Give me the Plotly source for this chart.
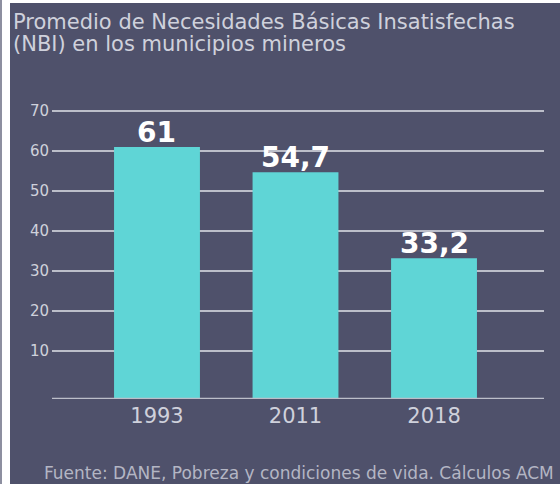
import plotly.graph_objects as go

# ---- data ----
years = ["1993", "2011", "2018"]
nbi_values = [61, 54.7, 33.2]
y_tick_values = [10, 20, 30, 40, 50, 60, 70]
y_tick_labels = ["10", "20", "30", "40", "50", "60", "70"]

title_lines = ["Promedio de Necesidades Básicas Insatisfechas",
               "(NBI) en los municipios mineros"]
source_text = "Fuente: DANE, Pobreza y condiciones de vida. Cálculos ACM"

# ---- style ----
BG = "#4f516b"
BAR = "#5fd5d6"
GRID = "#bcbec9"
TEXT_LIGHT = "#cfd1dc"
FONT = "DejaVu Sans"

W, H = 560, 484
Y_MIN, Y_MAX = -2, 70.5
L, R, B = 52, 16, 85
T = 111 - 2  # 70 gridline at ~111px
labels = [f"{v:g}".replace(".", ",") for v in nbi_values]
heights = [v - Y_MIN for v in nbi_values]

pw = W - L - R
ph = H - T - B


def px_x(p):
    return (p - L) / pw


def px_y(p):
    return (H - B - p) / ph


fig = go.Figure(
    go.Bar(
        x=years,
        y=heights,
        base=Y_MIN,
        width=0.62,
        marker=dict(color=BAR, line=dict(width=0)),
        hoverinfo="skip",
    )
)

annotations = []
for i, (v, lab) in enumerate(zip(nbi_values, labels)):
    annotations.append(dict(
        x=i, y=v, xref="x", yref="y", text=lab, showarrow=False,
        xanchor="center", yanchor="bottom", yshift=-4,
        font=dict(family=FONT, size=28, color="white", weight="bold")))

annotations += [
    dict(text=title_lines[0], xref="paper", yref="paper",
         x=px_x(11), y=px_y(8), xanchor="left", yanchor="top",
         showarrow=False, font=dict(family=FONT, size=21, color=TEXT_LIGHT)),
    dict(text=title_lines[1], xref="paper", yref="paper",
         x=px_x(11), y=px_y(30), xanchor="left", yanchor="top",
         showarrow=False, font=dict(family=FONT, size=21, color=TEXT_LIGHT)),
    dict(text=source_text, xref="paper", yref="paper",
         x=px_x(42), y=px_y(473), xanchor="left", yanchor="middle",
         showarrow=False, font=dict(family=FONT, size=17, color="#b4b6c4")),
]

fig.update_layout(
    width=W,
    height=H,
    margin=dict(l=L, r=R, t=T, b=B),
    paper_bgcolor="white",
    plot_bgcolor=BG,
    showlegend=False,
    xaxis=dict(
        type="category",
        range=[-0.758, 2.794],
        showgrid=False,
        showline=False,
        zeroline=False,
        ticks="",
        tickfont=dict(family=FONT, size=21, color=TEXT_LIGHT),
        ticklabelstandoff=2,
    ),
    yaxis=dict(
        range=[Y_MIN, Y_MAX],
        tickvals=y_tick_values,
        ticktext=y_tick_labels,
        showgrid=True,
        gridcolor=GRID,
        gridwidth=1.5,
        zeroline=False,
        showline=False,
        ticks="",
        tickfont=dict(family=FONT, size=15, color=TEXT_LIGHT),
        ticklabelstandoff=2,
    ),
    shapes=[
        dict(type="rect", xref="paper", yref="paper", layer="below",
             x0=px_x(10), x1=px_x(W + 5), y0=px_y(H + 5), y1=px_y(3),
             fillcolor=BG, line=dict(width=0)),
        dict(type="line", xref="paper", yref="paper", layer="below",
             x0=px_x(1), x1=px_x(1), y0=px_y(H + 5), y1=px_y(-5),
             line=dict(color="#8d8fa0", width=2)),
        dict(type="line", xref="paper", yref="y", layer="above",
             x0=0, x1=1, y0=Y_MIN, y1=Y_MIN,
             line=dict(color=GRID, width=2.5)),
    ],
    annotations=annotations,
)

fig.write_html("out.html", config={"displayModeBar": False},
               post_script="document.body.style.margin='0';")
